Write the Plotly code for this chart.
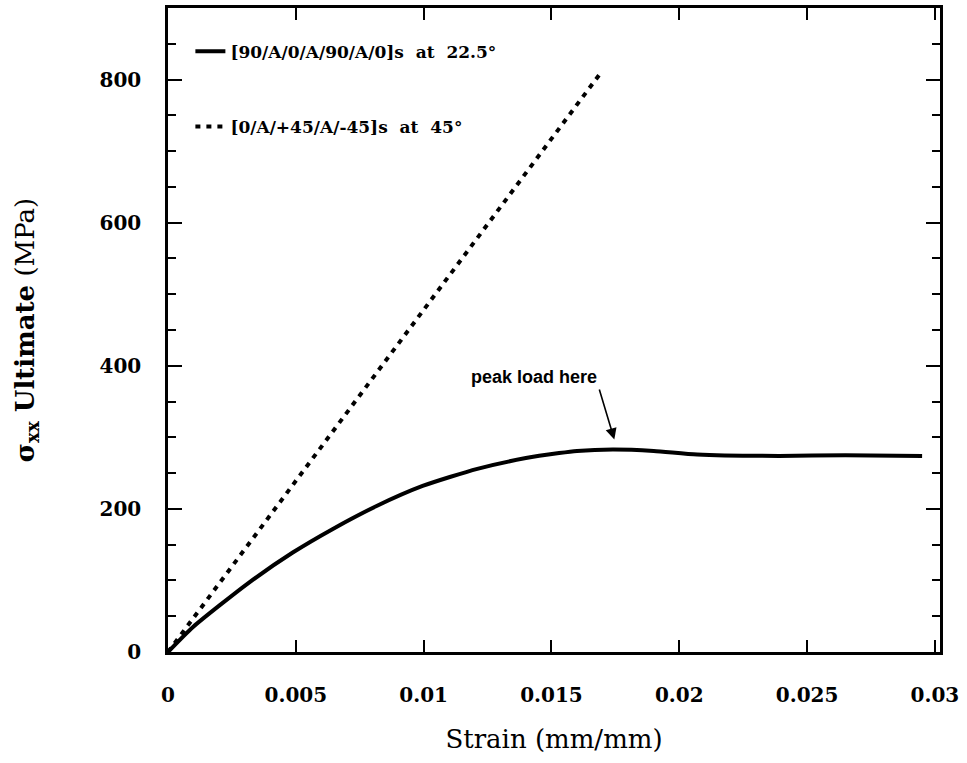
import plotly.graph_objects as go

# Data
strain_a = [0.0, 0.00098, 0.00313, 0.00488, 0.00645, 0.00816, 0.00996, 0.0121,
            0.0140, 0.0153, 0.0160, 0.0174, 0.0190, 0.0207, 0.0239, 0.0265, 0.0295]
stress_a = [0, 35, 96, 139, 172, 204, 232, 256, 271, 278, 281, 283, 281, 276, 274, 275, 274]

strain_b = [0.0, 0.0169]
stress_b = [0, 808]

label_a = "[90/A/0/A/90/A/0]s\u00a0\u00a0at\u00a0\u00a022.5°"
label_b = "[0/A/+45/A/-45]s\u00a0\u00a0at\u00a0\u00a045°"

x_ticks = [0, 0.005, 0.01, 0.015, 0.02, 0.025, 0.03]
x_ticktext = ["0", "0.005", "0.01", "0.015", "0.02", "0.025", "0.03"]
y_ticks = [0, 200, 400, 600, 800]

peak_strain = 0.01746
peak_stress = 297

serif = "DejaVu Serif"

fig = go.Figure()
fig.add_trace(go.Scatter(x=strain_a, y=stress_a, mode="lines", name=label_a,
                         legendgroup="a",
                         line=dict(color="black", width=4, shape="spline", smoothing=0.6)))
fig.add_trace(go.Scatter(x=strain_b, y=stress_b, mode="lines", name=label_b,
                         legendgroup="b", line=dict(color="black", width=4, dash="5px,6px")))

fig.add_annotation(x=peak_strain, y=peak_stress, ax=-15, ay=-50, xref="x", yref="y",
                   text="<b>peak load here</b>", showarrow=True,
                   xanchor="right", yanchor="bottom",
                   arrowhead=2, arrowsize=1.4, arrowwidth=1.6, arrowcolor="black",
                   font=dict(family="Liberation Sans", size=18, color="black"))

axis_common = dict(showline=True, linecolor="black", linewidth=2.5, mirror="ticks",
                   ticks="inside", tickcolor="black", tickwidth=2, showgrid=False,
                   zeroline=False)

fig.update_xaxes(range=[0, 0.0302], tickvals=x_ticks, ticktext=x_ticktext, ticklen=12,
                 ticklabelstandoff=23,
                 tickfont=dict(family=serif, size=20, color="black", weight="bold"),
                 title=dict(text="Strain (mm/mm)", font=dict(family=serif, size=26, color="black"),
                            standoff=25),
                 **axis_common)
fig.update_yaxes(range=[0, 900], tickvals=y_ticks, ticklen=14,
                 minor=dict(dtick=50, ticks="inside", ticklen=8, tickcolor="black", tickwidth=2),
                 ticklabelstandoff=20,
                 tickfont=dict(family=serif, size=20, color="black", weight="bold"),
                 title=dict(text="<b>σ<sub>xx</sub> Ultimate</b> (MPa)",
                            font=dict(family=serif, size=26, color="black"), standoff=58),
                 **axis_common)

fig.update_layout(
    width=967, height=763,
    margin=dict(l=168, r=27, t=5, b=111),
    paper_bgcolor="white", plot_bgcolor="white",
    showlegend=True,
    legend=dict(x=0.029, y=0.96, xanchor="left", yanchor="top", bgcolor="rgba(0,0,0,0)",
                tracegroupgap=50, traceorder="grouped",
                font=dict(family=serif, size=17, color="black", weight="bold")),
)

fig.write_html("out.html", config={"displayModeBar": False},
               post_script="document.body.style.margin='0';document.body.style.overflow='hidden';")
